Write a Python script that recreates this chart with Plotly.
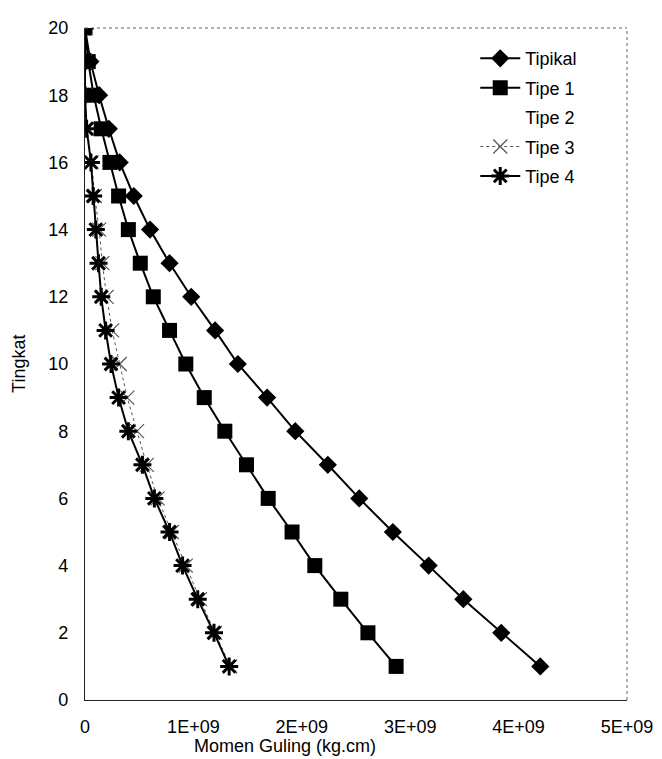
import plotly.graph_objects as go

tingkat = list(range(1, 21))

tipikal = [4.20e9, 3.84e9, 3.49e9, 3.17e9, 2.84e9, 2.53e9, 2.24e9, 1.94e9, 1.68e9, 1.41e9,
           1.20e9, 0.98e9, 0.78e9, 0.60e9, 0.45e9, 0.32e9, 0.22e9, 0.13e9, 0.05e9, 0.0]
tipe1 = [2.87e9, 2.61e9, 2.36e9, 2.12e9, 1.91e9, 1.69e9, 1.49e9, 1.29e9, 1.10e9, 0.93e9,
         0.78e9, 0.63e9, 0.51e9, 0.40e9, 0.31e9, 0.23e9, 0.15e9, 0.08e9, 0.03e9, 0.0]
tipe2 = [None] * 20  # no visible data in the reference
tipe3 = [1.34e9, 1.20e9, 1.06e9, 0.93e9, 0.80e9, 0.67e9, 0.57e9, 0.48e9, 0.39e9, 0.32e9,
         0.25e9, 0.20e9, 0.16e9, 0.13e9, 0.09e9, 0.06e9, 0.02e9, 0.0, 0.0, 0.0]
tipe4 = [1.33e9, 1.19e9, 1.04e9, 0.90e9, 0.78e9, 0.64e9, 0.53e9, 0.40e9, 0.31e9, 0.24e9,
         0.19e9, 0.15e9, 0.125e9, 0.10e9, 0.075e9, 0.055e9, 0.015e9, 0.0, 0.0, 0.0]

x_tickvals = [0, 1e9, 2e9, 3e9, 4e9, 5e9]
x_ticktext = ["0", "1E+09", "2E+09", "3E+09", "4E+09", "5E+09"]
y_tickvals = [0, 2, 4, 6, 8, 10, 12, 14, 16, 18, 20]

FONT = "Liberation Sans, Arial"

fig = go.Figure()
fig.add_trace(go.Scatter(x=tipikal, y=tingkat, name="Tipikal", legendgroup="a",
                         mode="lines+markers", line=dict(color="black", width=2),
                         marker=dict(symbol="diamond", size=14, color="black")))
fig.add_trace(go.Scatter(x=tipe1, y=tingkat, name="Tipe 1", legendgroup="b",
                         mode="lines+markers", line=dict(color="black", width=2),
                         marker=dict(symbol="square", size=15, color="black")))
fig.add_trace(go.Scatter(x=tipe2, y=tingkat, name="Tipe 2", legendgroup="c",
                         mode="lines", line=dict(color="rgba(0,0,0,0)", width=0)))
fig.add_trace(go.Scatter(x=tipe3, y=tingkat, name="Tipe 3", legendgroup="d",
                         mode="lines+markers", line=dict(color="#555555", width=1, dash="dot"),
                         marker=dict(symbol="x-thin-open", size=14,
                                     line=dict(color="black", width=1.2))))
fig.add_trace(go.Scatter(x=tipe4, y=tingkat, name="Tipe 4", legendgroup="e",
                         mode="lines+markers", line=dict(color="black", width=2),
                         marker=dict(symbol="asterisk-open", size=15,
                                     line=dict(color="black", width=3))))

axis_common = dict(showgrid=False, zeroline=False, showline=True, linecolor="#222222",
                   linewidth=1.2, mirror=False, ticks="", automargin=False,
                   tickfont=dict(family=FONT, size=18, color="black"))

fig.update_xaxes(range=[0, 5e9], tickvals=x_tickvals, ticktext=x_ticktext,
                 ticklabelstandoff=10, **axis_common)
fig.update_yaxes(range=[0, 20], tickvals=y_tickvals, ticklabelstandoff=12, **axis_common)

border = dict(color="#666666", width=1, dash="dot")

# the page body has an 8px margin, so the figure is shrunk by 8px and offsets reduced
fig.update_layout(
    width=654, height=751,
    margin=dict(l=77, r=35, t=20, b=59),
    plot_bgcolor="white", paper_bgcolor="white",
    showlegend=True,
    legend=dict(x=0.72, y=0.982, xanchor="left", yanchor="top",
                bgcolor="rgba(0,0,0,0)", tracegroupgap=3, itemwidth=40,
                font=dict(family=FONT, size=18, color="black")),
    shapes=[
        dict(type="line", xref="paper", yref="paper", x0=0, x1=1, y0=1, y1=1, line=border),
        dict(type="line", xref="paper", yref="paper", x0=1, x1=1, y0=0, y1=1, line=border),
    ],
    annotations=[
        dict(text="Momen Guling (kg.cm)", xref="paper", yref="paper", x=0.369, y=-0.069,
             xanchor="center", yanchor="middle", showarrow=False,
             font=dict(family=FONT, size=18, color="black")),
        dict(text="Tingkat", xref="paper", yref="paper", x=-0.122, y=0.5, textangle=-90,
             xanchor="center", yanchor="middle", showarrow=False,
             font=dict(family=FONT, size=18, color="black")),
    ],
)

fig.write_html("out.html")
